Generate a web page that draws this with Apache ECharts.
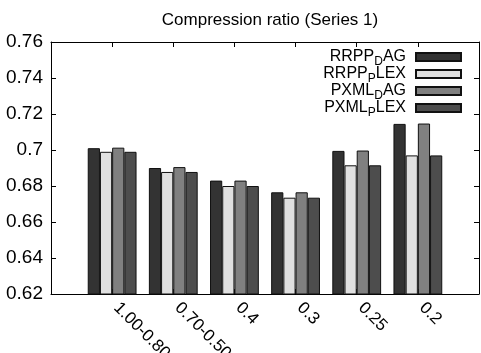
<!DOCTYPE html>
<html>
<head>
<meta charset="utf-8">
<script src="https://cdn.jsdelivr.net/npm/echarts@6/dist/echarts.min.js"></script>
<style>html,body{margin:0;padding:0;background:#fff}#c{width:481px;height:353px}</style>
</head>
<body>
<div id="c"></div>
<script>
var categories = ['1.00-0.80', '0.70-0.50', '0.4', '0.3', '0.25', '0.2'];
var rrppDag  = [0.701, 0.690, 0.683, 0.6765, 0.6995, 0.7145];
var rrppPlex = [0.699, 0.6878, 0.680, 0.6735, 0.6915, 0.697];
var pxmlDag  = [0.7013, 0.6905, 0.683, 0.6765, 0.6997, 0.7147];
var pxmlPlex = [0.699, 0.6878, 0.680, 0.6735, 0.6915, 0.697];
var seriesNames = ['RRPP_DAG', 'RRPP_PLEX', 'PXML_DAG', 'PXML_PLEX'];
var yTicks = [0.62, 0.64, 0.66, 0.68, 0.70, 0.72, 0.74, 0.76];

var legendRich = {
  RRPP_DAG: '{m|RRPP}{s|D}{e|AG}',
  RRPP_PLEX: '{m|RRPP}{s|P}{e|LEX}',
  PXML_DAG: '{m|PXML}{s|D}{e|AG}',
  PXML_PLEX: '{m|PXML}{s|P}{e|LEX}'
};
var colors = ['#333333', '#e0e0e0', '#808080', '#4d4d4d'];
var font = 'Liberation Sans, Arial, Helvetica, sans-serif';

function mk(name, arr, i) {
  return {
    name: name, type: 'bar', xAxisIndex: 0, yAxisIndex: 0,
    barWidth: 12.2, barGap: '0%',
    itemStyle: { color: colors[i], borderColor: '#111', borderWidth: 1 },
    data: arr.map(function (v, k) { return [k, v]; })
  };
}

var chart = echarts.init(document.getElementById('c'), null, { renderer: 'canvas' });
var yMin = yTicks[0], yMax = yTicks[yTicks.length - 1];
var axisCommon = {
  type: 'value', min: -1, max: 6, interval: 1,
  axisLine: { show: true, onZero: false, lineStyle: { color: '#000', width: 1 } },
  axisTick: { show: true, inside: true, length: 5, lineStyle: { color: '#000' } },
  splitLine: { show: false }
};
var yCommon = {
  type: 'value', min: yMin, max: yMax, interval: 0.02,
  axisLine: { show: true, onZero: false, lineStyle: { color: '#000' } },
  axisTick: { show: true, inside: true, length: 5, lineStyle: { color: '#000' } },
  splitLine: { show: false }
};
chart.setOption({
  animation: false,
  title: {
    text: 'Compression ratio (Series 1)', left: 265, top: 7, textAlign: 'center',
    textStyle: { fontFamily: font, fontSize: 17, fontWeight: 'normal', color: '#000' }
  },
  grid: { left: 51, right: 2, top: 42, bottom: 59, show: false, containLabel: false, outerBoundsMode: 'none' },
  legend: {
    orient: 'vertical', right: 14, top: 41, align: 'right',
    itemWidth: 45, itemHeight: 8, itemGap: -5,
    icon: 'rect',
    selectedMode: false,
    formatter: function (n) { return legendRich[n]; },
    textStyle: {
      fontFamily: font, color: '#000',
      rich: {
        m: { fontSize: 16, fontFamily: font, lineHeight: 22, color: '#000' },
        e: { fontSize: 16, fontFamily: font, lineHeight: 22, color: '#000', padding: [0, 5, 0, 0] },
        s: { fontSize: 12, fontFamily: font, lineHeight: 12, color: '#000', padding: [10, 0, 0, 0] }
      }
    },
    data: seriesNames
  },
  xAxis: [
    Object.assign({}, axisCommon, {
      position: 'bottom',
      axisLabel: {
        show: true, rotate: -45, margin: 7, fontFamily: font, fontSize: 17, color: '#000',
        padding: [0, 0, 0, 6],
        formatter: function (v) { return categories[v] !== undefined ? categories[v] : ''; }
      }
    }),
    Object.assign({}, axisCommon, { position: 'top', axisLabel: { show: false } })
  ],
  yAxis: [
    Object.assign({}, yCommon, {
      position: 'left',
      axisLabel: { fontFamily: font, fontSize: 19, color: '#000', margin: 8,
        formatter: function (v) { return String(+v.toFixed(2)); } }
    }),
    Object.assign({}, yCommon, { position: 'right', axisLabel: { show: false } })
  ],
  series: [
    mk(seriesNames[0], rrppDag, 0),
    mk(seriesNames[1], rrppPlex, 1),
    mk(seriesNames[2], pxmlDag, 2),
    mk(seriesNames[3], pxmlPlex, 3)
  ]
});
</script>
</body>
</html>
